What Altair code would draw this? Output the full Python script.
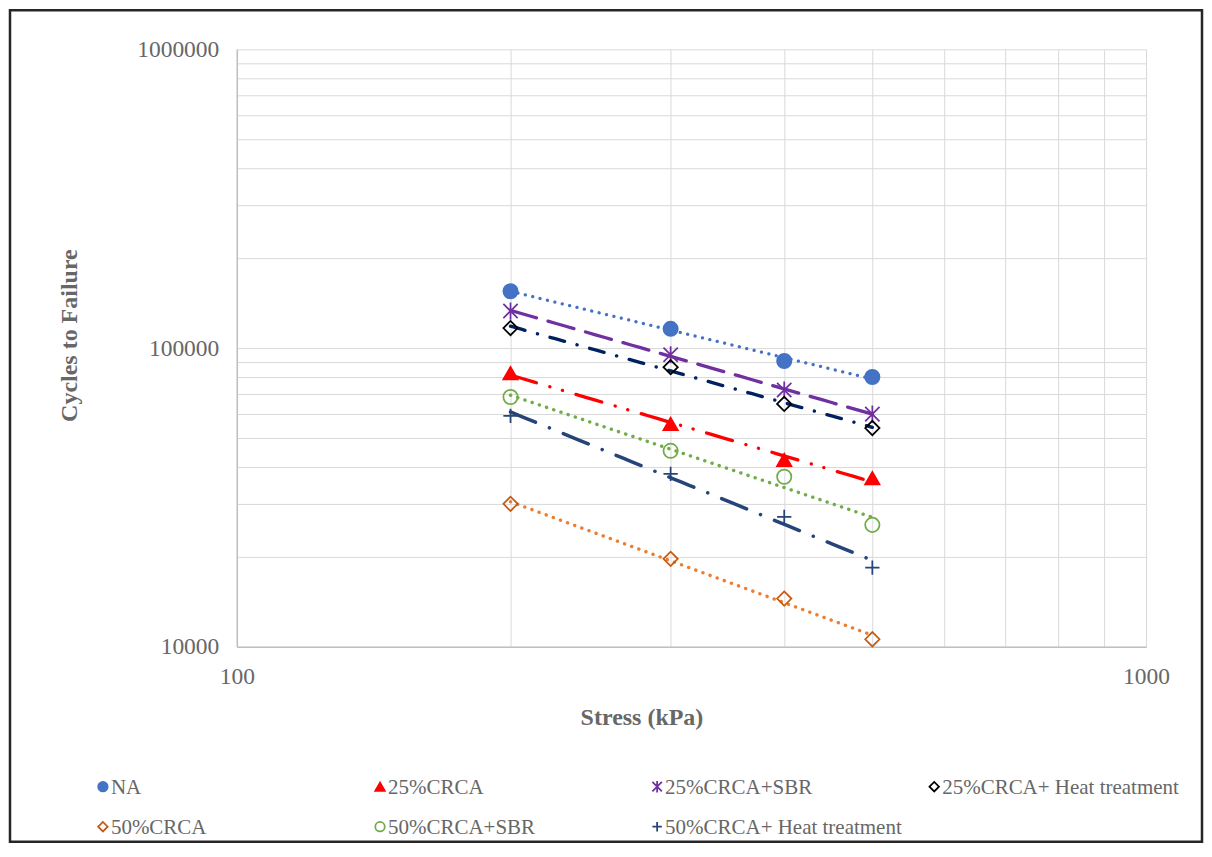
import altair as alt
import pandas as pd

# ---------------- data ----------------
stress = [200, 300, 400, 500]
series_names = [
    "NA",
    "25%CRCA",
    "25%CRCA+SBR",
    "25%CRCA+ Heat treatment",
    "50%CRCA",
    "50%CRCA+SBR",
    "50%CRCA+ Heat treatment",
]
na_cycles = [155000, 116000, 90500, 80000]
crca25_cycles = [82400, 55700, 42200, 36700]
crca25_sbr_cycles = [133000, 95000, 72400, 60100]
crca25_heat_cycles = [116700, 86300, 65000, 54000]
crca50_cycles = [30100, 19700, 14500, 10600]
crca50_sbr_cycles = [68600, 45300, 37100, 25600]
crca50_heat_cycles = [59300, 37900, 27200, 18400]

x_grid_values = [100, 200, 300, 400, 500, 600, 700, 800, 900, 1000]
x_label_values = [100, 1000]
y_grid_values = [10000, 20000, 30000, 40000, 50000, 60000, 70000, 80000, 90000,
                 100000, 200000, 300000, 400000, 500000, 600000, 700000, 800000, 900000,
                 1000000]
y_label_values = [10000, 100000, 1000000]

# legend layout: 4 columns, 2 rows
legend_columns = 4

all_cycles = [na_cycles, crca25_cycles, crca25_sbr_cycles, crca25_heat_cycles,
              crca50_cycles, crca50_sbr_cycles, crca50_heat_cycles]

rows = []
for name, vals in zip(series_names, all_cycles):
    for s, v in zip(stress, vals):
        rows.append({"series": name, "stress": s, "cycles": v})
df = pd.DataFrame(rows)

legend_df = pd.DataFrame({
    "series": series_names,
    "col": [i % legend_columns for i in range(len(series_names))],
    "row": [i // legend_columns for i in range(len(series_names))],
})

# ---------------- styles ----------------
asterisk = "M-1,-1L1,1M-1,1L1,-1M0,-1.2L0,1.2"
plus = "M-1,0L1,0M0,-1L0,1"
marker_shapes = ["circle", "triangle-up", asterisk, "diamond", "diamond", "circle", plus]
marker_strokes = ["#4472C4", "#FF0000", "#7030A0", "#000000", "#C55A11", "#70AD47", "#264478"]
marker_fills = ["#4472C4", "#FF0000", "transparent", "transparent", "transparent", "transparent", "transparent"]
line_colors = ["#4472C4", "#FF0000", "#7030A0", "#002060", "#ED7D31", "#70AD47", "#264478"]
line_dashes = [[0.1, 7.5], [27, 14, 0.1, 13, 0.1, 14], [27, 12], [15, 13, 0.1, 13],
               [0.1, 7.5], [0.1, 7.5], [27, 15, 0.1, 15]]
line_widths = [3.25, 3.5, 3.5, 3.25, 3.25, 3.25, 3.25]

GRAY = "#676767"
FONT = "Liberation Serif"

def label_expr(vals):
    arr = ",".join(str(v) for v in vals)
    return f"indexof([{arr}], datum.value) >= 0 ? format(datum.value, 'd') : ''"

x_enc = alt.X(
    "stress:Q",
    scale=alt.Scale(type="log", domain=[100, 1000], nice=False),
    axis=alt.Axis(
        title="Stress (kPa)",
        values=x_grid_values,
        labelExpr=label_expr(x_label_values),
        labelFlush=False,
        labelOverlap=False,
        labelPadding=18,
        titlePadding=17,
        titleX=405,
        titleAlign="center",
    ),
)
y_enc = alt.Y(
    "cycles:Q",
    scale=alt.Scale(type="log", domain=[10000, 1000000], nice=False),
    axis=alt.Axis(
        title="Cycles to Failure",
        values=y_grid_values,
        labelExpr=label_expr(y_label_values),
        labelOverlap=False,
        labelPadding=18,
        titlePadding=55,
        titleY=286,
        titleAlign="center",
    ),
)

shape_enc = alt.Shape("series:N", scale=alt.Scale(domain=series_names, range=marker_shapes), legend=None)
stroke_enc = alt.Stroke("series:N", scale=alt.Scale(domain=series_names, range=marker_strokes), legend=None)
fill_enc = alt.Fill("series:N", scale=alt.Scale(domain=series_names, range=marker_fills), legend=None)

base = alt.Chart(df)

lines = base.transform_regression(
    "stress", "cycles", method="pow", groupby=["series"], extent=[200, 500]
).mark_line(strokeCap="round").encode(
    x=x_enc,
    y=y_enc,
    color=alt.Color("series:N", scale=alt.Scale(domain=series_names, range=line_colors), legend=None),
    strokeDash=alt.StrokeDash("series:N", scale=alt.Scale(domain=series_names, range=line_dashes), legend=None),
    strokeWidth=alt.StrokeWidth("series:N", scale=alt.Scale(domain=series_names, range=line_widths), legend=None),
)

points = base.mark_point(size=205, strokeWidth=1.75, opacity=1).encode(
    x=x_enc, y=y_enc, shape=shape_enc, stroke=stroke_enc, fill=fill_enc,
)

# ---------------- legend (drawn as its own small layer) ----------------
leg_x = alt.X("col:Q", scale=alt.Scale(domain=[0, legend_columns - 1], range=[-134, 698]), axis=None)
leg_y = alt.Y("row:Q", scale=alt.Scale(domain=[0, 1], range=[738, 778]), axis=None)
leg_base = alt.Chart(legend_df)
leg_points = leg_base.mark_point(size=90, strokeWidth=1.75, opacity=1).encode(
    x=leg_x, y=leg_y, shape=shape_enc, stroke=stroke_enc, fill=fill_enc,
)
leg_text = leg_base.mark_text(
    align="left", baseline="middle", dx=8, dy=1, font=FONT, fontSize=21, color=GRAY
).encode(x=leg_x, y=leg_y, text="series:N")

frame = alt.Chart(alt.Data(values=[{"k": 1}])).mark_rect(
    filled=False, stroke="#262626", strokeWidth=2.5
).encode(
    x=alt.value(-227), x2=alt.value(966), y=alt.value(-39), y2=alt.value(793)
)

chart = alt.layer(
    alt.layer(lines, points),
    alt.layer(leg_points, leg_text),
    frame,
).resolve_scale(
    x="independent", y="independent"
).properties(
    width=910, height=598, padding=0
).configure(
    font=FONT,
).configure_view(
    stroke=None
).configure_axis(
    labelFont=FONT,
    labelFontSize=23.5,
    labelColor=GRAY,
    titleFont=FONT,
    titleFontSize=24,
    titleFontWeight="bold",
    titleColor=GRAY,
    gridColor="#d9d9d9",
    gridWidth=1,
    domainColor="#bfbfbf",
    domainWidth=1.5,
    ticks=False,
    tickSize=0,
)

chart.save("out.html", embed_options={"renderer": "svg", "actions": False})
